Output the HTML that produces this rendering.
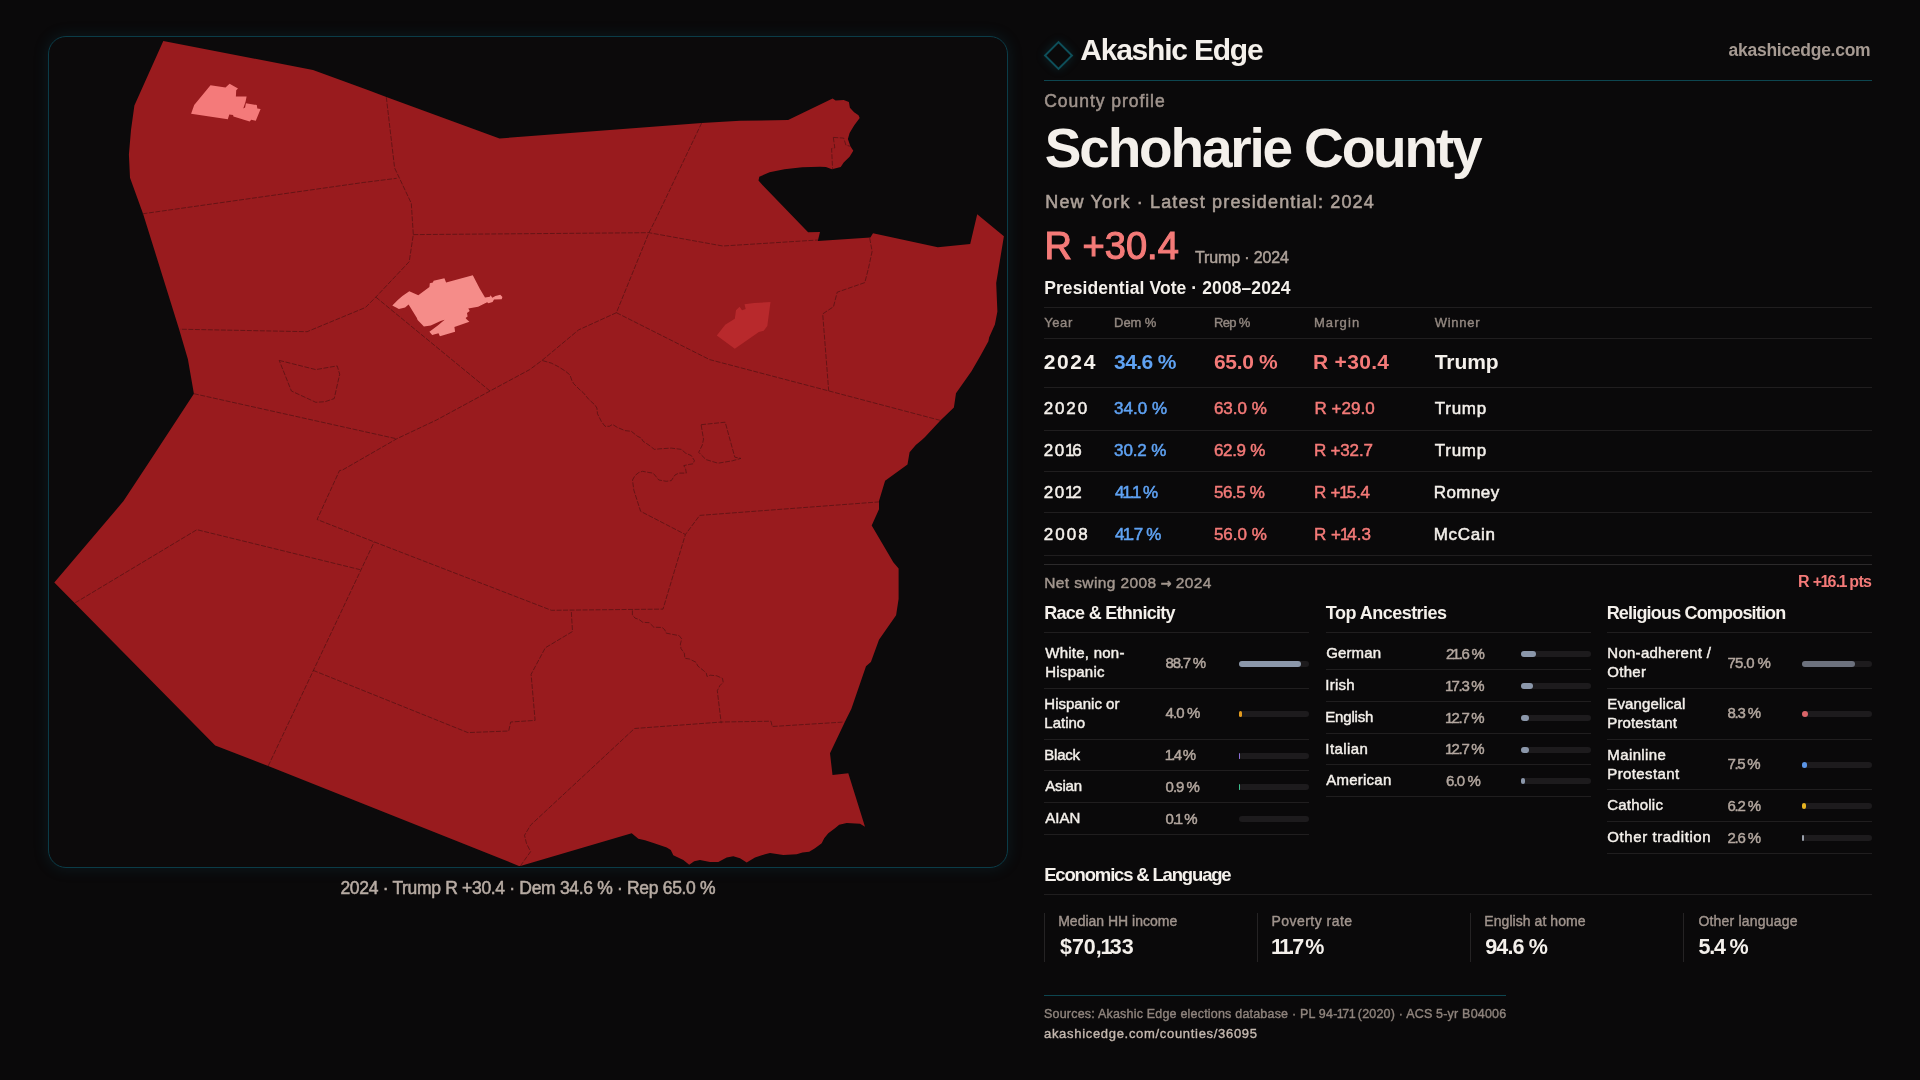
<!DOCTYPE html>
<html><head><meta charset="utf-8"><title>Schoharie County — Akashic Edge</title>
<style>
html,body{margin:0;padding:0;}
body{width:1920px;height:1080px;overflow:hidden;background:#0a090a;font-family:"Liberation Sans", Arial, sans-serif;position:relative;}
.txt{position:absolute;left:0;top:0;width:1920px;height:1080px;will-change:transform;}
.t{position:absolute;white-space:nowrap;line-height:1;}
.b{font-weight:700;}
.m{-webkit-text-stroke:0.45px currentColor;}
.r{position:absolute;}
.o{font-style:normal;margin-left:-0.06em;letter-spacing:-0.12em;}
.lab{font-size:15px;line-height:19px;color:#f4f0eb;}
.panel{position:absolute;left:48px;top:36px;width:958px;height:830px;border:1px solid #0b3c48;border-radius:18px;background:#0c0a0b;box-shadow:0 0 14px 2px rgba(16,96,110,0.16);}
.map{position:absolute;left:0;top:0;}
.dia{position:absolute;left:1048px;top:45px;width:17px;height:17px;border:2px solid #0e4f5a;transform:rotate(45deg);box-shadow:0 0 10px rgba(15,100,115,0.3);}
</style></head><body>
<div class="panel"></div>
<svg class="map" width="1920" height="1080" viewBox="0 0 1920 1080"><polygon points="163.3,41.0 313.0,70.0 367.8,90.0 386.3,97.0 499.5,138.5 701.7,122.9 740.0,120.8 788.1,120.1 832.6,98.6 835.6,100.4 843.7,100.1 848.9,101.9 849.9,107.8 854.1,112.2 858.5,115.2 859.7,118.1 854.1,125.6 849.6,133.0 847.9,138.9 850.4,146.3 853.3,150.7 849.6,156.7 843.7,162.6 840.7,167.0 831.9,169.3 825.9,167.0 820.0,166.7 802.2,167.3 784.4,169.3 769.6,172.2 759.3,176.7 758.5,180.4 762.2,184.8 808.1,232.2 820.0,231.9 817.8,241.1 870.4,237.4 873.0,233.2 937.8,247.2 970.2,244.1 977.2,214.3 1003.9,236.3 996.2,283.0 997.4,311.5 994.9,324.5 989.1,337.4 988.4,341.3 980.6,355.6 971.5,371.2 956.0,393.2 953.9,407.5 940.4,420.4 924.8,437.3 921.8,440.0 915.8,445.1 909.6,452.2 907.5,464.5 885.1,480.8 879.0,501.1 879.0,509.3 871.7,525.6 893.3,562.3 898.6,568.4 898.6,598.9 896.1,615.2 879.0,639.7 870.9,662.1 866.0,666.2 851.3,709.0 845.8,720.0 830.0,753.3 832.5,775.0 848.3,773.3 865.0,826.7 860.0,823.7 846.7,823.0 839.2,824.7 835.0,828.3 828.3,833.3 824.2,838.3 821.7,843.3 815.0,848.3 809.2,851.7 802.5,852.5 796.7,854.2 783.3,855.0 770.0,853.0 765.0,854.2 755.0,857.5 746.7,862.5 740.0,858.3 733.3,856.3 726.7,857.5 718.3,862.0 710.0,862.0 700.0,860.0 694.2,861.3 689.2,864.7 683.3,860.0 673.3,855.3 670.8,850.0 666.7,847.5 654.2,843.3 645.0,840.3 638.3,838.7 631.7,833.3 520.4,865.9 518.9,865.9 268.2,766.0 215.2,745.6 74.6,603.0 54.3,582.6 123.5,501.1 147.4,464.8 193.9,393.7 187.9,359.2 179.1,329.2 163.2,278.2 154.4,250.0 143.3,214.4 130.0,177.8 128.9,154.4 131.0,130.0 134.4,105.6" fill="#991b1e"/><polyline points="142.5,213.8 363.3,182.5 396.7,178.3" fill="none" stroke="#541113" stroke-width="0.75" stroke-dasharray="5 1.5"/><polyline points="386.3,97.1 394.6,167.9 411.3,203.3 413.3,234.6 409.2,261.7 375.8,297.1 365.4,307.5 307.1,331.7 180.0,329.2" fill="none" stroke="#541113" stroke-width="0.75" stroke-dasharray="5 1.5"/><polyline points="413.3,234.6 648.9,232.7 722.8,246.0 817.9,240.0" fill="none" stroke="#541113" stroke-width="0.75" stroke-dasharray="5 1.5"/><polyline points="701.7,122.9 655.4,220.0 648.9,232.7 616.4,312.7 578.6,329.9 542.0,360.4 529.7,369.6 490.0,391.0 436.5,420.0 396.7,438.8 342.5,470.0 339.5,470.6 317.1,519.5 374.2,541.9 551.4,610.3 663.0,609.1 685.4,534.5 699.7,515.4 879.0,501.9" fill="none" stroke="#541113" stroke-width="0.75" stroke-dasharray="5 1.5"/><polyline points="375.8,297.1 490.0,391.0" fill="none" stroke="#541113" stroke-width="0.75" stroke-dasharray="5 1.5"/><polyline points="616.4,312.7 709.6,359.6 828.7,390.9 940.4,420.4" fill="none" stroke="#541113" stroke-width="0.75" stroke-dasharray="5 1.5"/><polyline points="869.7,238.1 872.1,251.3 868.5,268.2 864.8,282.6 837.2,292.2 833.5,306.7 822.7,313.9 828.7,390.9" fill="none" stroke="#541113" stroke-width="0.75" stroke-dasharray="5 1.5"/><polyline points="542.5,360.6 551.3,363.1 558.8,366.9 565.6,371.3 570.0,375.0 571.9,380.6 573.8,383.8 580.0,390.0 583.1,392.5 588.8,399.4 595.0,405.0 596.9,408.1 597.5,413.8 601.3,421.3 605.0,426.3 609.4,426.3 612.5,424.4 617.5,427.5 625.0,430.6 631.3,431.3 637.5,436.3 641.3,438.1 643.1,441.3 648.8,445.0 654.4,449.4 660.0,448.8 671.3,448.1 681.3,449.4 685.6,453.1 691.3,455.6 694.4,460.6 693.1,463.8 689.4,464.4 683.8,465.6 685.6,468.8 686.3,473.1 678.8,473.1 675.0,475.0 671.3,480.6 666.3,481.3 658.8,480.0 656.3,476.9 653.1,473.1 648.8,472.5 642.5,471.3 638.8,472.5 635.0,475.6 632.5,480.0 633.8,490.0 640.6,511.3 685.4,534.5" fill="none" stroke="#541113" stroke-width="0.75" stroke-dasharray="5 1.5"/><polyline points="279.2,360.4 315.8,369.6 337.2,365.9 339.7,374.2 334.2,398.6 325.0,401.7 315.8,402.3 291.4,391.0 279.2,360.4" fill="none" stroke="#541113" stroke-width="0.75" stroke-dasharray="5 1.5"/><polyline points="701.1,424.7 725.2,422.2 734.8,457.2 740.9,458.4 732.4,460.8 718.0,463.2 706.0,459.6 698.7,452.3 702.3,445.1 703.5,439.1 701.1,424.7" fill="none" stroke="#541113" stroke-width="0.75" stroke-dasharray="5 1.5"/><polyline points="193.9,393.7 396.7,438.8" fill="none" stroke="#541113" stroke-width="0.75" stroke-dasharray="5 1.5"/><polyline points="75.2,602.8 196.9,529.7 359.9,569.6" fill="none" stroke="#541113" stroke-width="0.75" stroke-dasharray="5 1.5"/><polyline points="268.2,766.0 374.2,541.9" fill="none" stroke="#541113" stroke-width="0.75" stroke-dasharray="5 1.5"/><polyline points="313.0,670.3 467.9,732.6 508.7,731.0 510.7,722.0 535.1,720.4 531.1,674.3 545.3,647.8 572.5,631.5 571.3,611.2" fill="none" stroke="#541113" stroke-width="0.75" stroke-dasharray="5 1.5"/><polyline points="632.4,610.4 632.4,614.9 635.0,618.1 638.9,619.4 642.8,622.3 649.3,622.7 653.8,627.2 662.2,627.5 664.8,629.8 666.1,633.1 672.6,634.4 679.1,635.6 681.7,638.9 680.4,644.1 681.0,648.6 684.3,653.2 684.9,658.3 689.4,659.0 695.9,662.2 697.9,666.1 703.7,670.7 706.3,673.2 707.0,676.5 710.2,675.2 716.7,675.8 722.5,678.4 723.2,682.3 719.9,685.6 717.3,690.7 721.2,723.2" fill="none" stroke="#541113" stroke-width="0.75" stroke-dasharray="5 1.5"/><polyline points="520.4,865.9 530.6,851.6 526.5,843.5 524.5,835.3 530.6,825.1 634.5,728.5 722.1,722.0 771.0,721.2 772.2,726.5 844.4,722.0" fill="none" stroke="#541113" stroke-width="0.75" stroke-dasharray="5 1.5"/><polyline points="833.3,137.4 843.7,138.1 845.9,145.1 850.4,146.3" fill="none" stroke="#541113" stroke-width="0.75" stroke-dasharray="5 1.5"/><polyline points="833.3,137.4 834.8,147.8 831.6,148.5 832.6,169.3" fill="none" stroke="#541113" stroke-width="0.75" stroke-dasharray="5 1.5"/><polygon points="210.5,85.2 225.5,87.5 229.6,83.7 238.0,88.5 236.2,90.3 235.9,96.4 246.6,96.4 245.6,101.5 243.3,108.4 245.1,107.6 245.9,103.3 256.8,105.0 257.3,108.6 260.6,109.1 255.8,120.8 251.2,119.8 249.7,121.6 233.4,116.5 233.1,115.0 229.3,114.5 227.8,119.3 191.1,113.7 194.2,105.0" fill="#f47a7a"/><polygon points="392.3,305.4 397.8,299.9 402.4,296.0 409.3,291.2 418.3,295.3 429.4,287.0 429.8,283.2 432.9,282.5 433.6,280.8 444.4,278.3 446.1,282.5 472.8,275.2 479.8,288.8 485.0,297.4 489.9,296.7 490.6,295.3 492.3,297.8 495.4,296.0 500.3,294.7 502.4,297.1 501.7,299.2 494.0,299.5 492.6,301.9 488.5,303.3 487.1,302.3 478.1,306.8 468.3,308.5 469.7,311.0 467.0,313.1 467.6,316.5 465.6,317.9 466.6,319.3 469.4,321.7 454.4,326.9 455.1,331.8 439.9,336.3 438.5,333.2 432.2,334.9 429.4,331.8 437.8,325.6 444.7,319.7 440.6,321.0 430.8,325.6 423.9,326.6 417.6,320.0 416.9,317.9 408.6,304.4 405.1,307.5 398.9,308.9" fill="#f58c89"/><polygon points="716.8,335.6 725.2,324.7 734.8,318.7 736.0,310.3 739.6,306.7 742.0,310.3 745.7,309.1 744.5,304.3 754.1,303.1 770.5,301.9 767.3,325.9 763.7,330.8 758.9,332.0 734.8,348.8" fill="#b8292c"/></svg>
<div class="dia"></div>
<div class="txt">
<div id="e0" class="t b" style="top:34.61px;font-size:30px;color:#f4f0eb;letter-spacing:-1.22px;left:1080.25px;">Akashic Edge</div><div id="e1" class="t b" style="top:42.19px;font-size:17.5px;color:#a69a92;letter-spacing:-0.27px;right:49.62px;">akashicedge.com</div><div class="r" style="left:1044px;top:80px;width:828px;height:1px;background:#0d4650;"></div><div id="e2" class="t" style="top:92.69px;font-size:17.5px;color:#9f938c;-webkit-text-stroke:0.53px #9f938c;letter-spacing:0.96px;left:1044.25px;">County profile</div><div id="e3" class="t b" style="top:121.14px;font-size:55px;color:#f4f0eb;letter-spacing:-2.19px;left:1044.80px;">Schoharie County</div><div id="e4" class="t" style="top:192.76px;font-size:18px;color:#ada199;-webkit-text-stroke:0.54px #ada199;letter-spacing:1.15px;left:1045.30px;">New York · Latest presidential: 2024</div><div id="e5" class="t" style="top:226.63px;font-size:38px;color:#f47a78;-webkit-text-stroke:1.14px #f47a78;letter-spacing:0.03px;left:1044.50px;">R +30.4</div><div id="e6" class="t" style="top:249.96px;font-size:16px;color:#ada199;-webkit-text-stroke:0.48px #ada199;letter-spacing:-0.14px;left:1195.00px;">Trump · 2024</div><div id="e7" class="t b" style="top:280.49px;font-size:17.5px;color:#f4f0eb;letter-spacing:0.09px;left:1044.20px;">Presidential Vote · 2008–2024</div><div class="r" style="left:1044px;top:307px;width:828px;height:1px;background:#201e1f;"></div><div class="r" style="left:1044px;top:338px;width:828px;height:1px;background:#201e1f;"></div><div class="r" style="left:1044px;top:387px;width:828px;height:1px;background:#201e1f;"></div><div class="r" style="left:1044px;top:430px;width:828px;height:1px;background:#201e1f;"></div><div class="r" style="left:1044px;top:471px;width:828px;height:1px;background:#201e1f;"></div><div class="r" style="left:1044px;top:512px;width:828px;height:1px;background:#201e1f;"></div><div class="r" style="left:1044px;top:555px;width:828px;height:1px;background:#201e1f;"></div><div class="r" style="left:1044px;top:564px;width:828px;height:1px;background:#2c2a2b;"></div><div id="e8" class="t" style="top:315.60px;font-size:13px;color:#938881;-webkit-text-stroke:0.39px #938881;letter-spacing:0.60px;left:1044.20px;">Year</div><div id="e9" class="t" style="top:315.60px;font-size:13px;color:#938881;-webkit-text-stroke:0.39px #938881;letter-spacing:-0.07px;left:1114.10px;">Dem %</div><div id="e10" class="t" style="top:315.60px;font-size:13px;color:#938881;-webkit-text-stroke:0.39px #938881;letter-spacing:-0.65px;left:1213.90px;">Rep %</div><div id="e11" class="t" style="top:315.60px;font-size:13px;color:#938881;-webkit-text-stroke:0.39px #938881;letter-spacing:1.10px;left:1313.90px;">Margin</div><div id="e12" class="t" style="top:315.60px;font-size:13px;color:#938881;-webkit-text-stroke:0.39px #938881;letter-spacing:0.76px;left:1434.70px;">Winner</div><div id="e13" class="t b" style="top:351.12px;font-size:21px;color:#f4f0eb;letter-spacing:1.60px;left:1043.80px;">2024</div><div id="e14" class="t b" style="top:351.12px;font-size:21px;color:#5fa2f3;letter-spacing:-0.60px;left:1114.10px;">34.6 %</div><div id="e15" class="t b" style="top:351.12px;font-size:21px;color:#f47a78;letter-spacing:-0.30px;left:1213.90px;">65.0 %</div><div id="e16" class="t b" style="top:351.12px;font-size:21px;color:#f47a78;letter-spacing:0.33px;left:1312.90px;">R +30.4</div><div id="e17" class="t b" style="top:351.12px;font-size:21px;color:#f4f0eb;letter-spacing:-0.05px;left:1434.70px;">Trump</div><div id="e18" class="t" style="top:400.21px;font-size:17px;color:#f4f0eb;-webkit-text-stroke:0.51px #f4f0eb;letter-spacing:1.83px;left:1043.80px;">2020</div><div id="e19" class="t" style="top:400.21px;font-size:17px;color:#5fa2f3;-webkit-text-stroke:0.51px #5fa2f3;letter-spacing:0.02px;left:1114.10px;">34.0 %</div><div id="e20" class="t" style="top:400.21px;font-size:17px;color:#f47a78;-webkit-text-stroke:0.51px #f47a78;letter-spacing:0.02px;left:1213.90px;">63.0 %</div><div id="e21" class="t" style="top:400.21px;font-size:17px;color:#f47a78;-webkit-text-stroke:0.51px #f47a78;letter-spacing:0.07px;left:1314.40px;">R +29.0</div><div id="e22" class="t" style="top:400.21px;font-size:17px;color:#f4f0eb;-webkit-text-stroke:0.51px #f4f0eb;letter-spacing:0.77px;left:1434.70px;">Trump</div><div id="e23" class="t" style="top:442.11px;font-size:17px;color:#f4f0eb;-webkit-text-stroke:0.51px #f4f0eb;letter-spacing:1.60px;left:1043.80px;">20<i class="o">1</i>6</div><div id="e24" class="t" style="top:442.11px;font-size:17px;color:#5fa2f3;-webkit-text-stroke:0.51px #5fa2f3;letter-spacing:-0.14px;left:1114.10px;">30.2 %</div><div id="e25" class="t" style="top:442.11px;font-size:17px;color:#f47a78;-webkit-text-stroke:0.51px #f47a78;letter-spacing:-0.30px;left:1213.90px;">62.9 %</div><div id="e26" class="t" style="top:442.11px;font-size:17px;color:#f47a78;-webkit-text-stroke:0.51px #f47a78;letter-spacing:-0.17px;left:1313.90px;">R +32.7</div><div id="e27" class="t" style="top:442.11px;font-size:17px;color:#f4f0eb;-webkit-text-stroke:0.51px #f4f0eb;letter-spacing:0.77px;left:1434.70px;">Trump</div><div id="e28" class="t" style="top:483.61px;font-size:17px;color:#f4f0eb;-webkit-text-stroke:0.51px #f4f0eb;letter-spacing:1.60px;left:1043.80px;">20<i class="o">1</i>2</div><div id="e29" class="t" style="top:483.61px;font-size:17px;color:#5fa2f3;-webkit-text-stroke:0.51px #5fa2f3;letter-spacing:-1.30px;left:1115.10px;">4<i class="o">1</i>.<i class="o">1</i> %</div><div id="e30" class="t" style="top:483.61px;font-size:17px;color:#f47a78;-webkit-text-stroke:0.51px #f47a78;letter-spacing:-0.40px;left:1213.90px;">56.5 %</div><div id="e31" class="t" style="top:483.61px;font-size:17px;color:#f47a78;-webkit-text-stroke:0.51px #f47a78;letter-spacing:-0.17px;left:1313.90px;">R +<i class="o">1</i>5.4</div><div id="e32" class="t" style="top:483.61px;font-size:17px;color:#f4f0eb;-webkit-text-stroke:0.51px #f4f0eb;letter-spacing:0.46px;left:1433.70px;">Romney</div><div id="e33" class="t" style="top:525.81px;font-size:17px;color:#f4f0eb;-webkit-text-stroke:0.51px #f4f0eb;letter-spacing:2.00px;left:1043.80px;">2008</div><div id="e34" class="t" style="top:525.81px;font-size:17px;color:#5fa2f3;-webkit-text-stroke:0.51px #5fa2f3;letter-spacing:-0.92px;left:1115.10px;">4<i class="o">1</i>.7 %</div><div id="e35" class="t" style="top:525.81px;font-size:17px;color:#f47a78;-webkit-text-stroke:0.51px #f47a78;letter-spacing:0.02px;left:1213.90px;">56.0 %</div><div id="e36" class="t" style="top:525.81px;font-size:17px;color:#f47a78;-webkit-text-stroke:0.51px #f47a78;letter-spacing:0.03px;left:1313.90px;">R +<i class="o">1</i>4.3</div><div id="e37" class="t" style="top:525.81px;font-size:17px;color:#f4f0eb;-webkit-text-stroke:0.51px #f4f0eb;letter-spacing:0.72px;left:1433.70px;">McCain</div><div id="e38" class="t" style="top:574.58px;font-size:15.5px;color:#a2968e;-webkit-text-stroke:0.46px #a2968e;letter-spacing:0.39px;left:1044.20px;">Net swing 2008<span style="font-family:DejaVu Sans,sans-serif;font-weight:700;font-size:13px;margin:0 -1px 0 -1px"> → </span>2024</div><div id="e39" class="t b" style="top:574.06px;font-size:16px;color:#f47a78;letter-spacing:-0.64px;right:48.64px;">R +<i class="o">1</i>6.<i class="o">1</i> pts</div><div id="e40" class="t b" style="top:604.46px;font-size:18px;color:#f4f0eb;letter-spacing:-0.71px;left:1044.20px;">Race &amp; Ethnicity</div><div class="r" style="left:1044px;top:632px;width:265px;height:1px;background:#201e1f;"></div><div id="e41" class="t" style="top:644.40px;font-size:15px;color:#f4f0eb;-webkit-text-stroke:0.45px #f4f0eb;letter-spacing:0.24px;left:1045.30px;line-height:18.9px;">White, non-<br>Hispanic</div><div id="e42" class="t" style="top:654.60px;font-size:15px;color:#b3a79f;-webkit-text-stroke:0.45px #b3a79f;letter-spacing:-1.22px;left:1165.60px;">88.7 %</div><div class="r" style="left:1239px;top:660.8px;width:70px;height:6px;background:#1d1b1d;border-radius:3px;"></div><div class="r" style="left:1239px;top:660.8px;width:62.09px;height:6px;background:#8b97aa;border-radius:3px;"></div><div class="r" style="left:1044px;top:688.1px;width:265px;height:1px;background:#201e1f;"></div><div id="e43" class="t" style="top:695.00px;font-size:15px;color:#f4f0eb;-webkit-text-stroke:0.45px #f4f0eb;letter-spacing:0.01px;left:1044.30px;line-height:18.9px;">Hispanic or<br>Latino</div><div id="e44" class="t" style="top:705.20px;font-size:15px;color:#b3a79f;-webkit-text-stroke:0.45px #b3a79f;letter-spacing:-0.93px;left:1165.60px;">4.0 %</div><div class="r" style="left:1239px;top:711.4px;width:70px;height:6px;background:#1d1b1d;border-radius:3px;"></div><div class="r" style="left:1239px;top:711.4px;width:2.8px;height:6px;background:#e39b1e;border-radius:3px;"></div><div class="r" style="left:1044px;top:738.7px;width:265px;height:1px;background:#201e1f;"></div><div id="e45" class="t" style="top:745.60px;font-size:15px;color:#f4f0eb;-webkit-text-stroke:0.45px #f4f0eb;letter-spacing:-0.23px;left:1044.30px;line-height:18.9px;">Black</div><div id="e46" class="t" style="top:747.35px;font-size:15px;color:#b3a79f;-webkit-text-stroke:0.45px #b3a79f;letter-spacing:-1.76px;left:1165.60px;"><i class="o">1</i>.4 %</div><div class="r" style="left:1239px;top:752.6px;width:70px;height:6px;background:#1d1b1d;border-radius:3px;"></div><div class="r" style="left:1239px;top:752.6px;width:1.0px;height:6px;background:#8c6fd6;border-radius:3px;"></div><div class="r" style="left:1044px;top:770.4px;width:265px;height:1px;background:#201e1f;"></div><div id="e47" class="t" style="top:777.30px;font-size:15px;color:#f4f0eb;-webkit-text-stroke:0.45px #f4f0eb;letter-spacing:-0.20px;left:1045.30px;line-height:18.9px;">Asian</div><div id="e48" class="t" style="top:779.05px;font-size:15px;color:#b3a79f;-webkit-text-stroke:0.45px #b3a79f;letter-spacing:-1.02px;left:1165.60px;">0.9 %</div><div class="r" style="left:1239px;top:784.3px;width:70px;height:6px;background:#1d1b1d;border-radius:3px;"></div><div class="r" style="left:1239px;top:784.3px;width:1.0px;height:6px;background:#3cc08e;border-radius:3px;"></div><div class="r" style="left:1044px;top:802.1px;width:265px;height:1px;background:#201e1f;"></div><div id="e49" class="t" style="top:809.00px;font-size:15px;color:#f4f0eb;-webkit-text-stroke:0.45px #f4f0eb;letter-spacing:0.03px;left:1045.30px;line-height:18.9px;">AIAN</div><div id="e50" class="t" style="top:810.75px;font-size:15px;color:#b3a79f;-webkit-text-stroke:0.45px #b3a79f;letter-spacing:-1.20px;left:1165.60px;">0.<i class="o">1</i> %</div><div class="r" style="left:1239px;top:816.0px;width:70px;height:6px;background:#1d1b1d;border-radius:3px;"></div><div class="r" style="left:1239px;top:816.0px;width:0.07px;height:6px;background:#c0c0c0;border-radius:3px;"></div><div class="r" style="left:1044px;top:833.8px;width:265px;height:1px;background:#201e1f;"></div><div id="e51" class="t b" style="top:604.46px;font-size:18px;color:#f4f0eb;letter-spacing:-0.52px;left:1325.80px;">Top Ancestries</div><div class="r" style="left:1325.5px;top:632px;width:265px;height:1px;background:#201e1f;"></div><div id="e52" class="t" style="top:644.40px;font-size:15px;color:#f4f0eb;-webkit-text-stroke:0.45px #f4f0eb;letter-spacing:0.10px;left:1326.30px;line-height:18.9px;">German</div><div id="e53" class="t" style="top:646.15px;font-size:15px;color:#b3a79f;-webkit-text-stroke:0.45px #b3a79f;letter-spacing:-1.24px;left:1445.90px;">2<i class="o">1</i>.6 %</div><div class="r" style="left:1520.5px;top:651.4px;width:70px;height:6px;background:#1d1b1d;border-radius:3px;"></div><div class="r" style="left:1520.5px;top:651.4px;width:15.12px;height:6px;background:#8b97aa;border-radius:3px;"></div><div class="r" style="left:1325.5px;top:669.2px;width:265px;height:1px;background:#201e1f;"></div><div id="e54" class="t" style="top:676.10px;font-size:15px;color:#f4f0eb;-webkit-text-stroke:0.45px #f4f0eb;letter-spacing:0.22px;left:1325.30px;line-height:18.9px;">Irish</div><div id="e55" class="t" style="top:677.85px;font-size:15px;color:#b3a79f;-webkit-text-stroke:0.45px #b3a79f;letter-spacing:-1.30px;left:1445.90px;"><i class="o">1</i>7.3 %</div><div class="r" style="left:1520.5px;top:683.1px;width:70px;height:6px;background:#1d1b1d;border-radius:3px;"></div><div class="r" style="left:1520.5px;top:683.1px;width:12.11px;height:6px;background:#8b97aa;border-radius:3px;"></div><div class="r" style="left:1325.5px;top:700.9px;width:265px;height:1px;background:#201e1f;"></div><div id="e56" class="t" style="top:707.80px;font-size:15px;color:#f4f0eb;-webkit-text-stroke:0.45px #f4f0eb;letter-spacing:-0.20px;left:1325.30px;line-height:18.9px;">English</div><div id="e57" class="t" style="top:709.55px;font-size:15px;color:#b3a79f;-webkit-text-stroke:0.45px #b3a79f;letter-spacing:-1.30px;left:1445.90px;"><i class="o">1</i>2.7 %</div><div class="r" style="left:1520.5px;top:714.8px;width:70px;height:6px;background:#1d1b1d;border-radius:3px;"></div><div class="r" style="left:1520.5px;top:714.8px;width:8.89px;height:6px;background:#8b97aa;border-radius:3px;"></div><div class="r" style="left:1325.5px;top:732.6px;width:265px;height:1px;background:#201e1f;"></div><div id="e58" class="t" style="top:739.50px;font-size:15px;color:#f4f0eb;-webkit-text-stroke:0.45px #f4f0eb;letter-spacing:0.42px;left:1325.30px;line-height:18.9px;">Italian</div><div id="e59" class="t" style="top:741.25px;font-size:15px;color:#b3a79f;-webkit-text-stroke:0.45px #b3a79f;letter-spacing:-1.30px;left:1445.90px;"><i class="o">1</i>2.7 %</div><div class="r" style="left:1520.5px;top:746.5px;width:70px;height:6px;background:#1d1b1d;border-radius:3px;"></div><div class="r" style="left:1520.5px;top:746.5px;width:8.89px;height:6px;background:#8b97aa;border-radius:3px;"></div><div class="r" style="left:1325.5px;top:764.3px;width:265px;height:1px;background:#201e1f;"></div><div id="e60" class="t" style="top:771.20px;font-size:15px;color:#f4f0eb;-webkit-text-stroke:0.45px #f4f0eb;letter-spacing:0.23px;left:1326.30px;line-height:18.9px;">American</div><div id="e61" class="t" style="top:772.95px;font-size:15px;color:#b3a79f;-webkit-text-stroke:0.45px #b3a79f;letter-spacing:-0.85px;left:1445.90px;">6.0 %</div><div class="r" style="left:1520.5px;top:778.2px;width:70px;height:6px;background:#1d1b1d;border-radius:3px;"></div><div class="r" style="left:1520.5px;top:778.2px;width:4.2px;height:6px;background:#8b97aa;border-radius:3px;"></div><div class="r" style="left:1325.5px;top:796.0px;width:265px;height:1px;background:#201e1f;"></div><div id="e62" class="t b" style="top:604.46px;font-size:18px;color:#f4f0eb;letter-spacing:-0.82px;left:1606.70px;">Religious Composition</div><div class="r" style="left:1607px;top:632px;width:265px;height:1px;background:#201e1f;"></div><div id="e63" class="t" style="top:644.40px;font-size:15px;color:#f4f0eb;-webkit-text-stroke:0.45px #f4f0eb;letter-spacing:0.27px;left:1607.30px;line-height:18.9px;">Non-adherent /<br>Other</div><div id="e64" class="t" style="top:654.60px;font-size:15px;color:#b3a79f;-webkit-text-stroke:0.45px #b3a79f;letter-spacing:-0.64px;left:1727.40px;">75.0 %</div><div class="r" style="left:1802px;top:660.8px;width:70px;height:6px;background:#1d1b1d;border-radius:3px;"></div><div class="r" style="left:1802px;top:660.8px;width:52.5px;height:6px;background:#6c717d;border-radius:3px;"></div><div class="r" style="left:1607px;top:688.1px;width:265px;height:1px;background:#201e1f;"></div><div id="e65" class="t" style="top:695.00px;font-size:15px;color:#f4f0eb;-webkit-text-stroke:0.45px #f4f0eb;letter-spacing:0.14px;left:1607.30px;line-height:18.9px;">Evangelical<br>Protestant</div><div id="e66" class="t" style="top:705.20px;font-size:15px;color:#b3a79f;-webkit-text-stroke:0.45px #b3a79f;letter-spacing:-1.15px;left:1727.40px;">8.3 %</div><div class="r" style="left:1802px;top:711.4px;width:70px;height:6px;background:#1d1b1d;border-radius:3px;"></div><div class="r" style="left:1802px;top:711.4px;width:5.81px;height:6px;background:#da6468;border-radius:3px;"></div><div class="r" style="left:1607px;top:738.7px;width:265px;height:1px;background:#201e1f;"></div><div id="e67" class="t" style="top:745.60px;font-size:15px;color:#f4f0eb;-webkit-text-stroke:0.45px #f4f0eb;letter-spacing:0.39px;left:1607.30px;line-height:18.9px;">Mainline<br>Protestant</div><div id="e68" class="t" style="top:755.80px;font-size:15px;color:#b3a79f;-webkit-text-stroke:0.45px #b3a79f;letter-spacing:-1.30px;left:1727.40px;">7.5 %</div><div class="r" style="left:1802px;top:762.0px;width:70px;height:6px;background:#1d1b1d;border-radius:3px;"></div><div class="r" style="left:1802px;top:762.0px;width:5.25px;height:6px;background:#5b95e6;border-radius:3px;"></div><div class="r" style="left:1607px;top:789.3px;width:265px;height:1px;background:#201e1f;"></div><div id="e69" class="t" style="top:796.20px;font-size:15px;color:#f4f0eb;-webkit-text-stroke:0.45px #f4f0eb;letter-spacing:0.20px;left:1607.30px;line-height:18.9px;">Catholic</div><div id="e70" class="t" style="top:797.95px;font-size:15px;color:#b3a79f;-webkit-text-stroke:0.45px #b3a79f;letter-spacing:-1.15px;left:1727.40px;">6.2 %</div><div class="r" style="left:1802px;top:803.2px;width:70px;height:6px;background:#1d1b1d;border-radius:3px;"></div><div class="r" style="left:1802px;top:803.2px;width:4.34px;height:6px;background:#e5b321;border-radius:3px;"></div><div class="r" style="left:1607px;top:821.0px;width:265px;height:1px;background:#201e1f;"></div><div id="e71" class="t" style="top:827.90px;font-size:15px;color:#f4f0eb;-webkit-text-stroke:0.45px #f4f0eb;letter-spacing:0.59px;left:1607.30px;line-height:18.9px;">Other tradition</div><div id="e72" class="t" style="top:829.65px;font-size:15px;color:#b3a79f;-webkit-text-stroke:0.45px #b3a79f;letter-spacing:-1.15px;left:1727.40px;">2.6 %</div><div class="r" style="left:1802px;top:834.9px;width:70px;height:6px;background:#1d1b1d;border-radius:3px;"></div><div class="r" style="left:1802px;top:834.9px;width:1.82px;height:6px;background:#9aa0ab;border-radius:3px;"></div><div class="r" style="left:1607px;top:852.7px;width:265px;height:1px;background:#201e1f;"></div><div id="e73" class="t b" style="top:866.24px;font-size:18.5px;color:#f4f0eb;letter-spacing:-1.17px;left:1044.20px;">Economics &amp; Language</div><div class="r" style="left:1044px;top:894px;width:828px;height:1px;background:#201e1f;"></div><div class="r" style="left:1044px;top:913px;width:1px;height:49px;background:#252324;"></div><div id="e74" class="t" style="top:914.25px;font-size:14px;color:#a0948d;-webkit-text-stroke:0.42px #a0948d;left:1058.20px;">Median HH income</div><div id="e75" class="t b" style="top:936.50px;font-size:21.5px;color:#f4f0eb;letter-spacing:-0.05px;left:1060.00px;">$70,<i class="o">1</i>33</div><div class="r" style="left:1257px;top:913px;width:1px;height:49px;background:#252324;"></div><div id="e76" class="t" style="top:914.25px;font-size:14px;color:#a0948d;-webkit-text-stroke:0.42px #a0948d;letter-spacing:0.48px;left:1271.40px;">Poverty rate</div><div id="e77" class="t b" style="top:936.50px;font-size:21.5px;color:#f4f0eb;letter-spacing:-2.38px;left:1272.40px;"><i class="o">1</i><i class="o">1</i>.7 %</div><div class="r" style="left:1470px;top:913px;width:1px;height:49px;background:#252324;"></div><div id="e78" class="t" style="top:914.25px;font-size:14px;color:#a0948d;-webkit-text-stroke:0.42px #a0948d;letter-spacing:0.06px;left:1484.30px;">English at home</div><div id="e79" class="t b" style="top:936.50px;font-size:21.5px;color:#f4f0eb;letter-spacing:-0.88px;left:1485.30px;">94.6 %</div><div class="r" style="left:1683px;top:913px;width:1px;height:49px;background:#252324;"></div><div id="e80" class="t" style="top:914.25px;font-size:14px;color:#a0948d;-webkit-text-stroke:0.42px #a0948d;letter-spacing:0.21px;left:1698.40px;">Other language</div><div id="e81" class="t b" style="top:936.50px;font-size:21.5px;color:#f4f0eb;letter-spacing:-1.20px;left:1698.40px;">5.4 %</div><div class="r" style="left:1044px;top:995px;width:462px;height:1px;background:#0d4650;"></div><div id="e82" class="t" style="top:1007.52px;font-size:12.5px;color:#8f847d;-webkit-text-stroke:0.38px #8f847d;letter-spacing:0.20px;left:1044.00px;">Sources: Akashic Edge elections database · PL 94-<i class="o">1</i>7<i class="o">1</i> (2020) · ACS 5-yr B04006</div><div id="e83" class="t" style="top:1027.10px;font-size:13px;color:#c4b8af;-webkit-text-stroke:0.39px #c4b8af;letter-spacing:0.69px;left:1044.00px;">akashicedge.com/counties/36095</div><div id="e84" class="t" style="top:880.19px;font-size:17.5px;color:#b8aca4;-webkit-text-stroke:0.53px #b8aca4;letter-spacing:-0.32px;left:27.89px;width:1000px;text-align:center;">2024 · Trump R +30.4 · Dem 34.6 % · Rep 65.0 %</div>
</div>
</body></html>
